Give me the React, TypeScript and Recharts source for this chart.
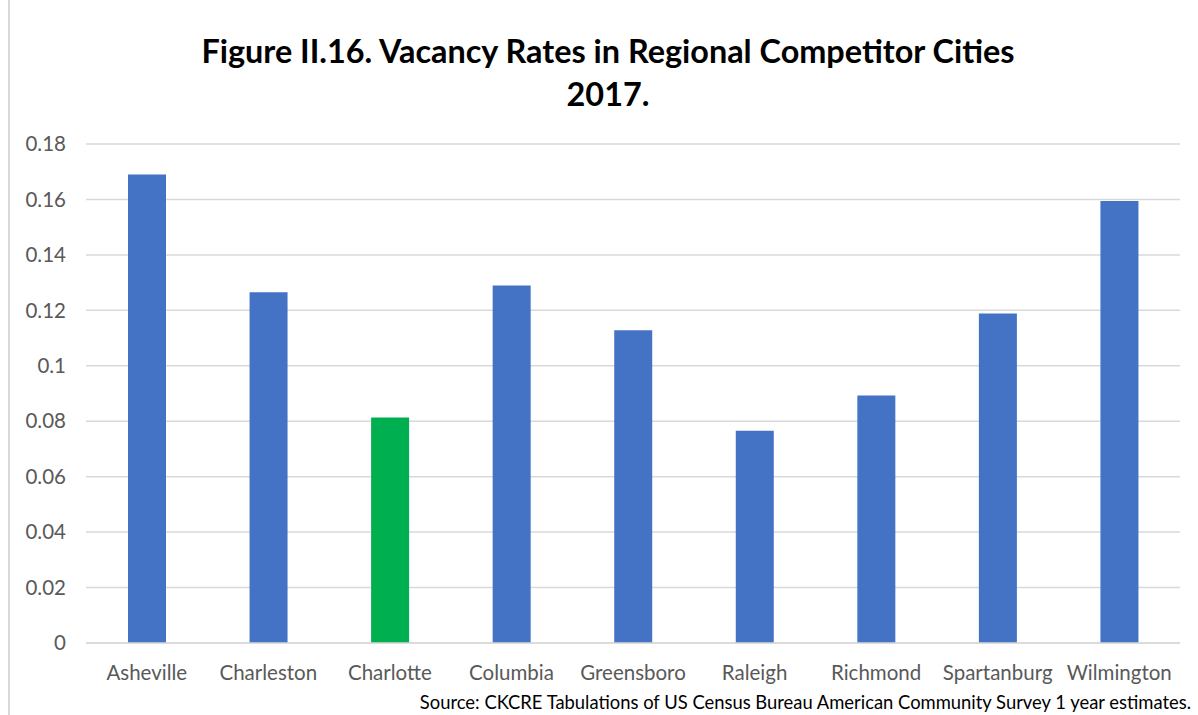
import { BarChart, Bar, XAxis, YAxis, CartesianGrid, Cell } from "recharts"

const cities = [
  "Asheville",
  "Charleston",
  "Charlotte",
  "Columbia",
  "Greensboro",
  "Raleigh",
  "Richmond",
  "Spartanburg",
  "Wilmington",
]
const vacancyRates = [0.169, 0.1265, 0.0813, 0.129, 0.1128, 0.0766, 0.0893, 0.1189, 0.1594]
const highlightCity = "Charlotte"
const yTicks = [0, 0.02, 0.04, 0.06, 0.08, 0.1, 0.12, 0.14, 0.16, 0.18]

const BLUE = "#4472C4"
const GREEN = "#00B050"
const FONT = "Lato, 'Open Sans', sans-serif"

const data = cities.map((city, i) => ({ city, rate: vacancyRates[i] }))

export default function App() {
  return (
    <div
      style={{
        position: "absolute",
        left: 0,
        top: 0,
        width: 1198,
        height: 715,
        background: "#fff",
        fontFamily: FONT,
        overflow: "hidden",
      }}
    >
      <div style={{ position: "absolute", left: 8, top: 0, width: 2, height: 715, background: "#d9d9d9" }} />
      <div
        style={{
          position: "absolute",
          left: 0,
          top: 29,
          width: 1216,
          textAlign: "center",
          fontWeight: 700,
          fontSize: 32.4,
          lineHeight: "43px",
          color: "#000",
        }}
      >
        Figure II.16. Vacancy Rates in Regional Competitor Cities
        <br />
        2017.
      </div>
      <BarChart
        width={1198}
        height={715}
        data={data}
        margin={{ top: 144, right: 18, left: 0, bottom: 42 }}
      >
        <CartesianGrid vertical={false} stroke="#d9d9d9" strokeWidth={1.5} />
        <XAxis
          dataKey="city"
          axisLine={{ stroke: "#d9d9d9", strokeWidth: 1.5 }}
          tickLine={false}
          tickSize={0}
          tickMargin={22}
          height={30}
          interval={0}
          tick={{ fill: "#595959", fontSize: 20.5, fontFamily: FONT }}
        />
        <YAxis
          domain={[0, 0.18]}
          ticks={yTicks}
          width={86}
          axisLine={false}
          tickLine={false}
          tickSize={0}
          tickMargin={20}
          tick={{ fill: "#595959", fontSize: 20.5, fontFamily: FONT }}
        />
        <Bar dataKey="rate" barSize={38} isAnimationActive={false}>
          {data.map((d) => (
            <Cell key={d.city} fill={d.city === highlightCity ? GREEN : BLUE} />
          ))}
        </Bar>
      </BarChart>
      <div
        style={{
          position: "absolute",
          right: 7,
          top: 691,
          fontSize: 18.4,
          lineHeight: "22px",
          color: "#000",
          whiteSpace: "nowrap",
        }}
      >
        Source: CKCRE Tabulations of US Census Bureau American Community Survey 1 year estimates.
      </div>
    </div>
  )
}
